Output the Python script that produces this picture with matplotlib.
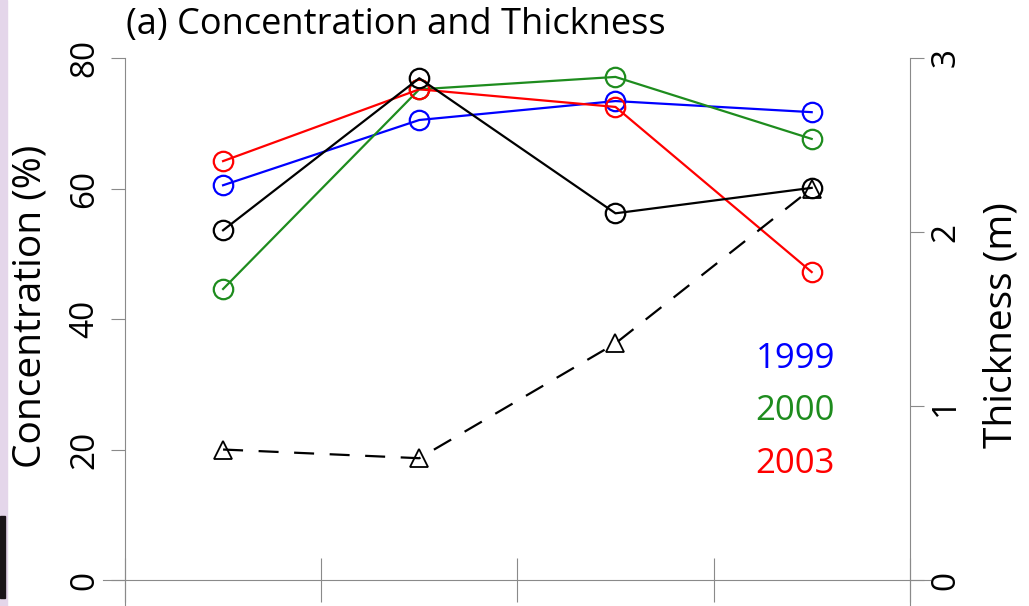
"""
Panel (a): ice concentration per year and mean thickness, two y axes.
"""

import matplotlib
matplotlib.use("Agg")
import matplotlib.pyplot as plt
from matplotlib.patches import Rectangle

# Stations along the x axis (no labels shown in this panel)
stations = [1, 2, 3, 4]

# Concentration (%) per year
conc_1999 = [60.5, 70.5, 73.4, 71.7]
conc_2000 = [44.6, 75.2, 77.1, 67.6]
conc_2003 = [64.2, 75.2, 72.5, 47.2]
conc_mean = [53.6, 76.9, 56.2, 60.1]

# Thickness (m)
thickness = [0.75, 0.70, 1.36, 2.25]

years = ["1999", "2000", "2003"]
year_colors = ["#0000ff", "#1e8c1e", "#ff0000"]

left_ticks = [0, 20, 40, 60, 80]
right_ticks = [0, 1, 2, 3]
x_ticks = [0.5, 1.5, 2.5, 3.5, 4.5]

plt.rcParams["font.family"] = ["Open Sans", "DejaVu Sans"]
axis_grey = "#8a8a8a"

fig = plt.figure(figsize=(10.29, 6.06), dpi=100)
ax = fig.add_axes([103 / 1029, 0.0, 827 / 1029, 548 / 606])
ax.set_xlim(0.388, 4.603)
ax.set_ylim(-3.98, 80)

# Concentration lines, black one drawn last so it sits on top
for vals, col in zip([conc_1999, conc_2000, conc_2003], year_colors):
    ax.plot(stations, vals, color=col, lw=1.6, marker="o", ms=14,
            mfc="none", mec=col, mew=1.6, clip_on=False, zorder=3)
ax.plot(stations, conc_mean, color="black", lw=1.6, marker="o", ms=14,
        mfc="none", mec="black", mew=1.6, clip_on=False, zorder=4)

# Thickness on the right axis
ax2 = ax.twinx()
ax2.set_ylim(-3.98 * 3 / 80, 3)
ax2.plot(stations, thickness, color="black", lw=1.6, ls=(0, (9, 7)),
         marker="^", ms=13, mfc="none", mec="black", mew=1.3, clip_on=False)

# R-like detached axes
for a in (ax, ax2):
    for s in ["top", "left", "right", "bottom"]:
        a.spines[s].set_visible(False)

ax.spines["left"].set_visible(True)
ax.spines["left"].set_position(("data", 0.5))
ax.spines["left"].set_color(axis_grey)
ax.spines["left"].set_bounds(-3.98, 80)
ax.spines["bottom"].set_visible(True)
ax.spines["bottom"].set_position(("data", 0))
ax.spines["bottom"].set_color(axis_grey)

ax2.spines["right"].set_visible(True)
ax2.spines["right"].set_position(("data", 4.5))
ax2.spines["right"].set_color(axis_grey)
ax2.spines["right"].set_bounds(-3.98 * 3 / 80, 3)

ax.set_xticks(x_ticks)
ax.tick_params(axis="x", direction="inout", length=32, width=0.8,
               color=axis_grey, labelbottom=False)
ax.set_yticks(left_ticks)
ax.set_yticklabels([str(t) for t in left_ticks], rotation=90, va="center")
ax.tick_params(axis="y", direction="out", length=10, width=0.8,
               color=axis_grey, labelsize=24, pad=7)
ax2.set_yticks(right_ticks)
ax2.set_yticklabels([str(t) for t in right_ticks], rotation=90, va="center")
ax2.tick_params(axis="y", direction="out", length=10, width=0.8,
                color=axis_grey, labelsize=24, pad=4)

ax.set_ylabel("Concentration (%)", fontsize=28, va="center")
ax.yaxis.set_label_coords(-0.088, 0.546)
ax2.set_ylabel("Thickness (m)", fontsize=28, va="center")
ax2.yaxis.set_label_coords(1.087, 0.513)

fig.text(126 / 1029, 1 - 25 / 606, "(a) Concentration and Thickness",
         fontsize=26, ha="left", va="center")

# Year key
for i, (yr, col) in enumerate(zip(years, year_colors)):
    fig.text(835 / 1029, 1 - (359 + 52.5 * i) / 606, yr, color=col,
             fontsize=25, ha="right", va="center")

# Scanned-edge artefacts at the left border
fig.patches.append(Rectangle((0, 0), 7 / 1029, 1, transform=fig.transFigure,
                             color="#e4d6ea", zorder=0))
fig.patches.append(Rectangle((0, 8 / 606), 5 / 1029, 82 / 606,
                             transform=fig.transFigure,
                             color="#1a1418", zorder=0))

fig.savefig("out.png", dpi=100)
